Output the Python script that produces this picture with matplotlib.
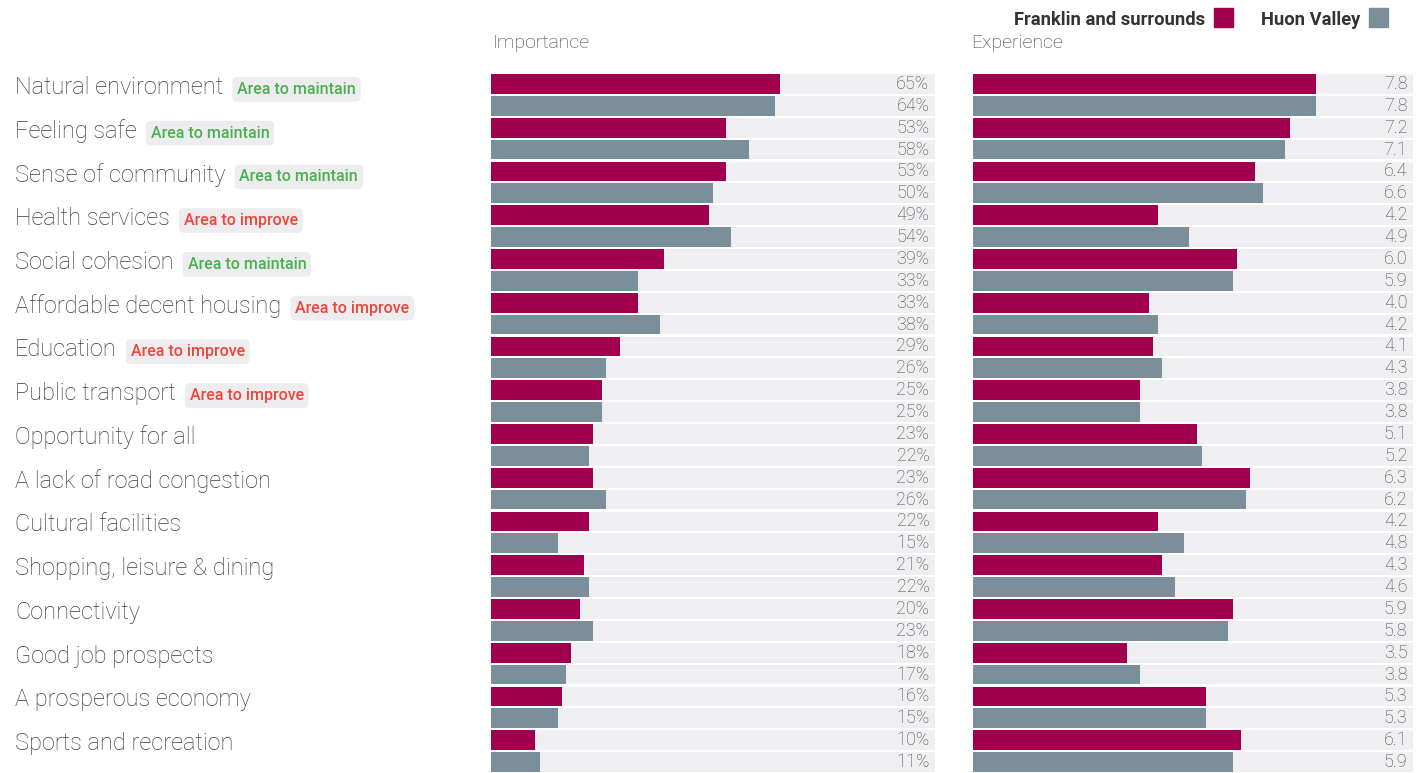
import matplotlib.pyplot as plt
from matplotlib.transforms import blended_transform_factory
from matplotlib.patches import Rectangle

categories = [
    "Natural environment", "Feeling safe", "Sense of community", "Health services",
    "Social cohesion", "Affordable decent housing", "Education", "Public transport",
    "Opportunity for all", "A lack of road congestion", "Cultural facilities",
    "Shopping, leisure & dining", "Connectivity", "Good job prospects",
    "A prosperous economy", "Sports and recreation",
]
tags = [
    "maintain", "maintain", "maintain", "improve", "maintain", "improve", "improve",
    "improve", None, None, None, None, None, None, None, None,
]
importance_franklin = [65, 53, 53, 49, 39, 33, 29, 25, 23, 23, 22, 21, 20, 18, 16, 10]
importance_huon = [64, 58, 50, 54, 33, 38, 26, 25, 22, 26, 15, 22, 23, 17, 15, 11]
experience_franklin = [7.8, 7.2, 6.4, 4.2, 6.0, 4.0, 4.1, 3.8, 5.1, 6.3, 4.2, 4.3, 5.9, 3.5, 5.3, 6.1]
experience_huon = [7.8, 7.1, 6.6, 4.9, 5.9, 4.2, 4.3, 3.8, 5.2, 6.2, 4.8, 4.6, 5.8, 3.8, 5.3, 5.9]
series_names = ["Franklin and surrounds", "Huon Valley"]

FRANKLIN = "#A0004E"
HUON = "#7A8F99"
TRACK = "#EFEFF1"
TEXT = "#3C3C3C"
VALUE = "#4A4A4A"
TAG_COLORS = {"maintain": "#4CAF50", "improve": "#F0453A"}
TAG_TEXT = {"maintain": "Area to maintain", "improve": "Area to improve"}

plt.rcParams['font.family'] = ['Roboto', 'DejaVu Sans']

W, H = 1424, 773
fig = plt.figure(figsize=(W / 100, H / 100), dpi=100)

top = 1 - 73 / H
ax_imp = fig.add_axes([491 / W, 0, 444 / W, top])
ax_exp = fig.add_axes([973 / W, 0, 440 / W, top])

n_bars = 2 * len(categories)
bar_h = 0.9


def draw_panel(ax, franklin, huon, xmax, fmt, title, title_x):
    ypos_f = [2 * i for i in range(len(categories))]
    ypos_h = [2 * i + 1 for i in range(len(categories))]
    ax.barh(range(n_bars), [xmax] * n_bars, height=bar_h, color=TRACK, zorder=1)
    ax.barh(ypos_f, franklin, height=bar_h, color=FRANKLIN, zorder=2)
    ax.barh(ypos_h, huon, height=bar_h, color=HUON, zorder=2)
    for y, v in list(zip(ypos_f, franklin)) + list(zip(ypos_h, huon)):
        ax.annotate(fmt(v), xy=(xmax, y), xytext=(-4, 0), textcoords='offset points',
                    ha='right', va='center', fontsize=13, color=VALUE,
                    fontweight='light', zorder=3)
    ax.set_xlim(0, xmax)
    ax.set_ylim(n_bars - 0.5, -0.5)
    ax.axis('off')
    fig.text(title_x / W, 1 - 43 / H, title, ha='left', va='center',
             fontsize=14, color=TEXT, fontweight='light')


draw_panel(ax_imp, importance_franklin, importance_huon, 100, lambda v: f"{v}%",
           "Importance", 493)
draw_panel(ax_exp, experience_franklin, experience_huon, 10, lambda v: f"{v:.1f}",
           "Experience", 971)

# category labels with tags
trans = blended_transform_factory(fig.transFigure, ax_imp.transData)
for i, (cat, tag) in enumerate(zip(categories, tags)):
    lbl = ax_imp.text(15 / W, 2 * i + 0.16, cat, transform=trans, ha='left', va='center',
                      fontsize=17, color=TEXT, fontweight='light', clip_on=False)
    if tag:
        ax_imp.annotate(TAG_TEXT[tag], xy=(1, 0.42), xycoords=lbl, xytext=(10, 0),
                        textcoords='offset points', ha='left', va='center',
                        fontsize=11.5, fontweight='medium', color=TAG_COLORS[tag],
                        bbox=dict(boxstyle='round,pad=0.3,rounding_size=0.3',
                                  fc='#EDEDEF', ec='none'))

# legend
leg_y = 1 - 20 / H
sq = 19
fig.text(1205 / W, leg_y, series_names[0], ha='right', va='center', fontsize=13.2,
         fontweight='bold', color='#333333')
fig.patches.append(Rectangle((1214 / W, 1 - 27 / H), sq / W, sq / H, color=FRANKLIN,
                             transform=fig.transFigure, figure=fig))
fig.text(1360 / W, leg_y, series_names[1], ha='right', va='center', fontsize=13.2,
         fontweight='bold', color='#333333')
fig.patches.append(Rectangle((1369 / W, 1 - 27 / H), sq / W, sq / H, color=HUON,
                             transform=fig.transFigure, figure=fig))

fig.savefig("out.png", dpi=100, facecolor='white')
